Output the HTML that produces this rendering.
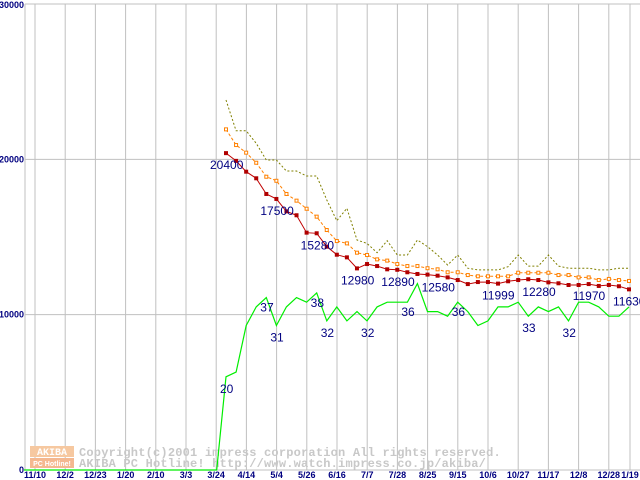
<!DOCTYPE html>
<html><head><meta charset="utf-8"><style>
html,body{margin:0;padding:0;background:#fff;}
svg{display:block;font-family:"Liberation Sans",sans-serif;}
</style></head><body>
<svg id="chart" width="640" height="480" viewBox="0 0 640 480" xmlns="http://www.w3.org/2000/svg">
<g id="grid"></g>
<g id="wm">
 <rect x="30" y="446" width="44" height="11" fill="#f6c8a0"/>
 <rect x="30" y="458" width="44" height="10" fill="#f4b890"/>
 <text x="52" y="455" font-size="10" font-weight="bold" fill="#fff" text-anchor="middle" font-family="Liberation Mono,monospace">AKIBA</text>
 <text x="52" y="466" font-size="7" font-weight="bold" fill="#fff" text-anchor="middle">PC Hotline!</text>
 <text x="79" y="456" font-size="12" letter-spacing="0.2" font-weight="bold" fill="#c8c8c8" font-family="Liberation Mono,monospace">Copyright(c)2001 impress corporation All rights reserved.</text>
 <text x="79" y="467" font-size="12" letter-spacing="0.2" font-weight="bold" fill="#c8c8c8" font-family="Liberation Mono,monospace">AKIBA PC Hotline!  http://www.watch.impress.co.jp/akiba/</text>
</g>
<g id="series"></g>
<g id="labels"></g>
</svg>
<script>
const xLabels=["11/10","12/2","12/23","1/20","2/10","3/3","3/24","4/14","5/4","5/26","6/16","7/7","7/28","8/25","9/15","10/6","10/27","11/17","12/8","12/28","1/19"];
const yTicks=[0,10000,20000,30000];
const maxPrice=[23820,21840,21840,21030,19960,19960,19250,19250,18930,18930,17380,16050,16850,14810,14590,13990,14760,13840,13840,14810,14380,13840,13200,13840,12990,12880,12880,12880,13090,13840,13130,13130,13840,13130,12990,12990,12990,12880,12880,12990,12990];
const avgPrice=[21930,20920,20430,19780,18880,18620,17770,17340,16820,16310,15450,14740,14590,13990,13840,13560,13480,13260,13130,13130,12990,12920,12730,12730,12550,12470,12470,12470,12470,12700,12700,12700,12700,12550,12550,12400,12400,12230,12300,12230,12170];
const minPrice=[20400,19900,19205,18780,17770,17450,16650,16400,15280,15240,14380,13860,13690,12980,13260,13130,12920,12890,12730,12620,12580,12510,12400,12230,11970,12100,12100,11999,12150,12230,12280,12230,12080,12020,11910,11910,11970,11850,11910,11830,11630];
const shopCount=[20,21,31,35,37,31,35,37,36,38,32,35,32,34,32,35,36,36,36,40,34,34,33,36,34,31,32,35,35,36,33,35,34,35,32,36,36,35,33,33,35];
const priceLabels=[[0,"20400"],[5,"17500"],[9,"15280"],[13,"12980"],[17,"12890"],[21,"12580"],[27,"11999"],[31,"12280"],[36,"11970"],[40,"11630"]];
const countLabels=[[0,"20"],[4,"37"],[5,"31"],[9,"38"],[10,"32"],[14,"32"],[18,"36"],[23,"36"],[30,"33"],[34,"32"]];
const NS="http://www.w3.org/2000/svg";
function yS(v){return 470-v*0.015533;}
function yC(c){return yS(c*300);}
function xW(i){return 226+i*10.075;}
function xG(i){return i<20?35+i*30.2:630;}
function mk(p,t,a){const e=document.createElementNS(NS,t);for(const k in a)e.setAttribute(k,a[k]);p.appendChild(e);return e;}
const grid=document.getElementById('grid'),ser=document.getElementById('series'),lab=document.getElementById('labels');
yTicks.forEach((v,i)=>{
 if(v>0){const l=mk(grid,'line',{x1:25,x2:640,y1:yS(v),y2:yS(v),stroke:'#c0c0c0'});
 
 }
 const t=mk(grid,'text',{x:24,y:yS(v)+(i==3?4:3),'font-size':9,'font-weight':'bold',fill:'#000080','text-anchor':'end'});
 t.textContent=v;
 
 
});
xLabels.forEach((s,i)=>{
 const l=mk(grid,'line',{x1:xG(i),x2:xG(i),y1:4,y2:470,stroke:'#c0c0c0'});
 
 
 const t=mk(grid,'text',{x:xG(i),y:478,'font-size':9,'font-weight':'bold',fill:'#000080','text-anchor':'middle'});
 t.textContent=s;
 
 
});
const ax=mk(grid,'path',{d:'M25 4V470H640',fill:'none',stroke:'#c0c0c0'});


function pts(arr,f){return arr.map((v,i)=>xW(i).toFixed(1)+','+f(v).toFixed(1)).join(' ');}
const gp='24,470 216.7,470 '+pts(shopCount,yC);
const g=mk(ser,'polyline',{points:gp,fill:'none',stroke:'#00ee00','stroke-width':1.2});


const mx=mk(ser,'polyline',{points:pts(maxPrice,yS),fill:'none',stroke:'#808000','stroke-dasharray':'2,2'});


const av=mk(ser,'polyline',{points:pts(avgPrice,yS),fill:'none',stroke:'#ff8000','stroke-dasharray':'3,2'});


avgPrice.forEach((v,i)=>{const r=mk(ser,'rect',{x:xW(i)-1.5,y:yS(v)-1.5,width:3,height:3,fill:'#fff',stroke:'#ff8000','stroke-width':1});
 
 });
const mn=mk(ser,'polyline',{points:pts(minPrice,yS),fill:'none',stroke:'#c00000'});


minPrice.forEach((v,i)=>{const r=mk(ser,'rect',{x:xW(i)-2,y:yS(v)-2,width:4,height:4,fill:'#b00000'});
 
 });
priceLabels.forEach(([i,s])=>{const t=mk(lab,'text',{x:xW(i)-16,y:yS(minPrice[i])+16,'font-size':12,fill:'#000080'});
 t.textContent=s;
 
 });
countLabels.forEach(([i,s],k)=>{const t=mk(lab,'text',{x:xW(i)-6,y:yC(shopCount[i])+(k==0||k==2||k==4||k==5||k==8||k==9?16:14),'font-size':12,fill:'#000080'});
 t.textContent=s;
 
 });
</script>
</body></html>
